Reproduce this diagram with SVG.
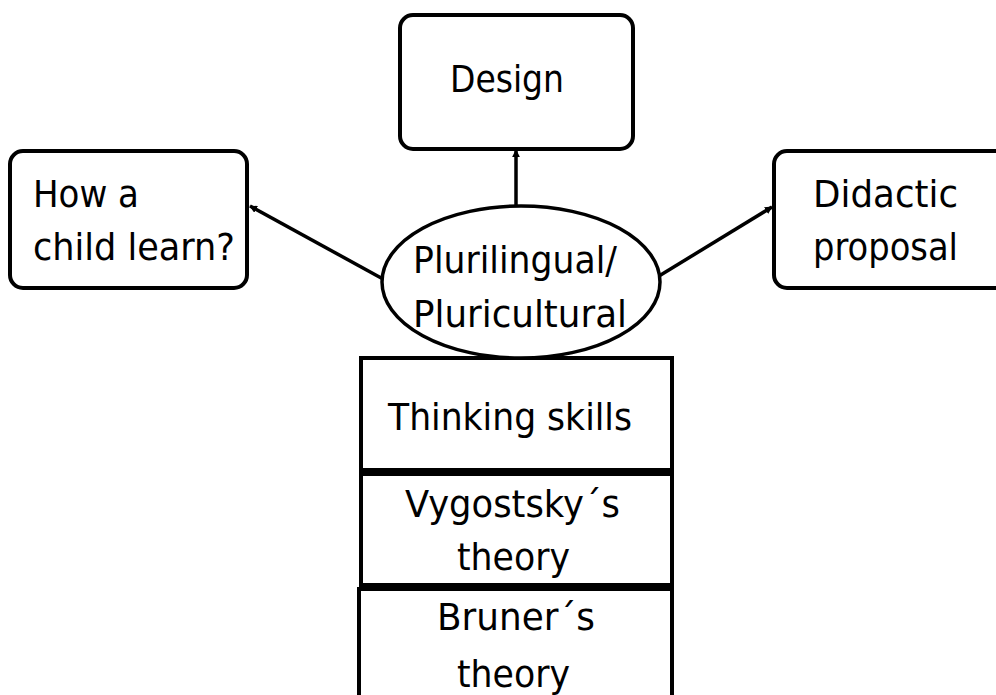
<svg xmlns="http://www.w3.org/2000/svg" width="996" height="695" viewBox="0 0 996 695">
<style>
.box{fill:#fff;stroke:#000;stroke-width:4}
.ln{stroke:#000;stroke-width:3.5;fill:none}
text{font-family:"DejaVu Sans","Liberation Sans",sans-serif;font-size:38px;fill:#000}
</style>
<defs>
<marker id="ah" viewBox="0 0 10 10" refX="9" refY="5" markerWidth="2.2" markerHeight="2.2" orient="auto" markerUnits="strokeWidth">
<path d="M0,0 L10,5 L0,10 z" fill="#000"/>
</marker>
</defs>
<rect width="996" height="695" fill="#fff"/>
<g id="connectors">
<line class="ln" x1="516" y1="208" x2="516" y2="150" marker-end="url(#ah)"/>
<line class="ln" x1="383" y1="279" x2="250" y2="206" marker-end="url(#ah)"/>
<line class="ln" x1="659" y1="276" x2="772" y2="207" marker-end="url(#ah)"/>
</g>
<g id="design">
<rect class="box" x="400" y="15" width="233" height="134" rx="13"/>
<text x="450" y="92" textLength="114" lengthAdjust="spacingAndGlyphs">Design</text>
</g>
<g id="child">
<rect class="box" x="10" y="151" width="237" height="137" rx="13"/>
<text x="33" y="207" textLength="106" lengthAdjust="spacingAndGlyphs">How a</text>
<text x="33" y="260" textLength="202" lengthAdjust="spacingAndGlyphs">child learn?</text>
</g>
<g id="didactic">
<rect class="box" x="774" y="151" width="240" height="137" rx="13"/>
<text x="813" y="207" textLength="145" lengthAdjust="spacingAndGlyphs">Didactic</text>
<text x="813" y="260" textLength="145" lengthAdjust="spacingAndGlyphs">proposal</text>
</g>
<g id="thinking">
<rect class="box" x="361" y="358" width="311" height="112"/>
<text x="388" y="430" textLength="244" lengthAdjust="spacingAndGlyphs">Thinking skills</text>
</g>
<g id="vygotsky">
<rect class="box" x="361" y="474" width="311" height="111"/>
<text x="405" y="517" textLength="215" lengthAdjust="spacingAndGlyphs">Vygostsky´s</text>
<text x="457" y="570" textLength="113" lengthAdjust="spacingAndGlyphs">theory</text>
</g>
<g id="bruner">
<rect class="box" x="359" y="589" width="313" height="130"/>
<text x="437" y="630" textLength="158" lengthAdjust="spacingAndGlyphs">Bruner´s</text>
<text x="457" y="687" textLength="113" lengthAdjust="spacingAndGlyphs">theory</text>
</g>
<g id="plurilingual">
<ellipse class="box" cx="521" cy="282" rx="139" ry="76" style="stroke-width:3.5"/>
<text x="413" y="273" textLength="204" lengthAdjust="spacingAndGlyphs">Plurilingual/</text>
<text x="413" y="327" textLength="214" lengthAdjust="spacingAndGlyphs">Pluricultural</text>
</g>
</svg>
